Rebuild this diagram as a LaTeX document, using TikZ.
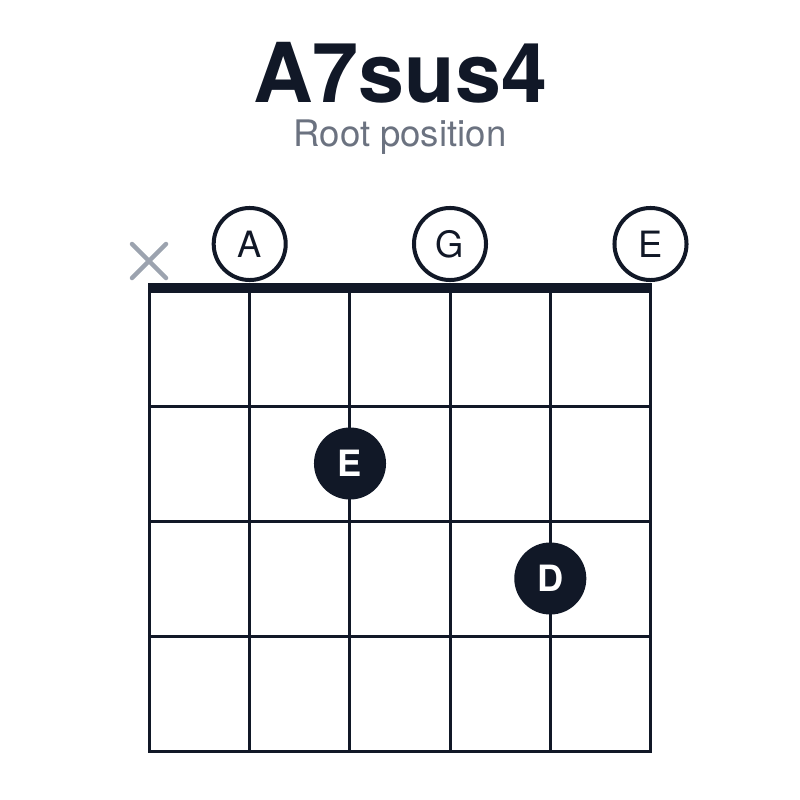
\documentclass[tikz,border=0pt]{standalone}
\usepackage{fontspec}
\setmainfont{TeX Gyre Heros}
\definecolor{ink}{HTML}{111827}
\definecolor{mute}{HTML}{6B7280}
\definecolor{xgray}{HTML}{9CA3AF}
\begin{document}
\begin{tikzpicture}[x=0.01cm, y=-0.01cm,
    grid/.style={draw=ink, line width=0.85pt, line cap=rect},
    open/.style={circle, draw=ink, line width=1.14pt, fill=white, minimum size=0.72cm, inner sep=0pt, text=ink, font=\fontsize{10.3}{12}\selectfont},
    fret/.style={circle, fill=ink, minimum size=0.72cm, inner sep=0pt, text=white, font=\fontsize{10.3}{12}\selectfont\bfseries}]
    \useasboundingbox (0,0) rectangle (800,800);

    \node[anchor=base, text=ink, font=\fontsize{23.5}{28}\selectfont\bfseries] (title) at (400,102) {A7sus4};
    \node[anchor=base, text=mute, font=\fontsize{10.4}{12}\selectfont] (sub) at (400,146) {Root position};

    % strings and frets
    \foreach \s in {0,...,5}
      \draw[grid] (149.5+100.2*\s,288) -- (149.5+100.2*\s,751);
    \foreach \f in {1,...,4}
      \draw[grid] (149.5,291+115*\f) -- (650.5,291+115*\f);
    \fill[ink] (147.5,283) rectangle (652,293);

    % muted string
    \draw[xgray, line width=1.28pt, line cap=round] (132,244) -- (166,278) (132,278) -- (166,244);

    \node[open] (oA) at (249.7,244) {A};
    \node[open] (oG) at (450,244) {G};
    \node[open] (oE) at (650.5,244) {E};

    \node[fret] (fE) at (350,463.5) {E};
    \node[fret] (fD) at (550.3,578.5) {D};
  \end{tikzpicture}
\end{document}
